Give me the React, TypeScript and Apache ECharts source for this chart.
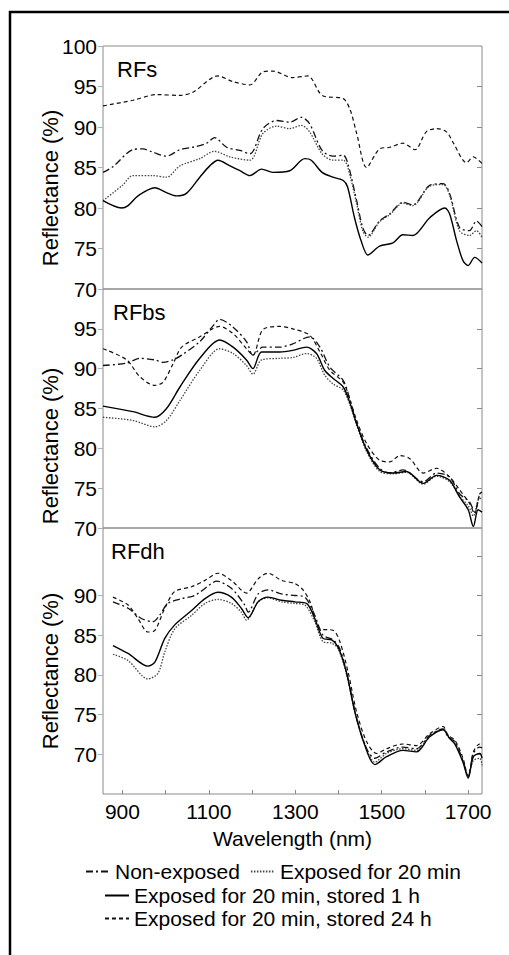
import React, { useEffect, useRef } from "react";
import * as echarts from "echarts";

// ---------- data ----------
const seriesNames = [
  "Non-exposed",
  "Exposed for 20 min",
  "Exposed for 20 min, stored 1 h",
  "Exposed for 20 min, stored 24 h",
];
const panelTitles = ["RFs", "RFbs", "RFdh"];
const xTickValues = [900, 1000, 1100, 1200, 1300, 1400, 1500, 1600, 1700];
const xLabelValues = [900, 1100, 1300, 1500, 1700];
const yLabelsTop = [70, 75, 80, 85, 90, 95, 100];
const yLabelsMid = [70, 75, 80, 85, 90, 95];
const yLabelsBot = [70, 75, 80, 85, 90];

// RFs
const rfsNonExposed = [[855,84.4],[878,85.1],[924,87.2],[947,87.3],[970,86.9],[1002,86.4],[1033,87.2],[1063,87.5],[1095,88.0],[1113,88.7],[1141,87.5],[1172,87.1],[1195,86.7],[1225,89.8],[1257,90.8],[1287,90.6],[1314,91.2],[1333,90.4],[1362,87.1],[1387,86.4],[1411,86.5],[1421,85.6],[1442,80.9],[1456,77.6],[1468,76.6],[1495,78.4],[1519,79.3],[1549,80.7],[1572,80.4],[1611,82.8],[1642,83.0],[1657,81.8],[1680,77.6],[1703,77.2],[1719,78.4],[1732,77.7]];
const rfsExposed20 = [[855,80.9],[900,82.8],[924,84.0],[970,84.0],[1002,83.8],[1033,85.2],[1079,86.1],[1113,87.0],[1149,86.3],[1195,85.9],[1225,89.2],[1257,90.1],[1287,89.8],[1314,90.2],[1333,89.4],[1362,86.7],[1387,85.9],[1411,85.9],[1421,85.1],[1442,80.5],[1456,77.2],[1468,76.4],[1495,78.3],[1519,79.2],[1549,80.6],[1572,80.3],[1611,82.7],[1642,82.9],[1657,81.6],[1680,77.2],[1703,76.6],[1719,77.2],[1732,76.4]];
const rfsStored1h = [[855,80.9],[898,80.0],[913,80.3],[936,81.5],[975,82.5],[1002,81.9],[1025,81.5],[1048,81.8],[1079,83.8],[1102,85.2],[1121,85.9],[1149,85.2],[1172,84.6],[1195,84.0],[1222,84.8],[1248,84.4],[1287,84.6],[1322,86.1],[1337,85.9],[1362,84.4],[1387,83.8],[1411,83.4],[1421,82.6],[1437,78.8],[1452,76.0],[1468,74.2],[1495,75.3],[1526,75.7],[1549,76.7],[1572,76.6],[1611,78.8],[1646,80.0],[1657,79.3],[1673,76.0],[1688,73.5],[1700,72.9],[1715,73.9],[1732,73.2]];
const rfsStored24h = [[855,92.6],[924,93.3],[979,94.0],[1033,93.9],[1063,94.3],[1121,96.3],[1156,95.6],[1195,95.2],[1225,96.8],[1248,96.9],[1294,96.1],[1329,96.3],[1362,93.9],[1411,93.5],[1427,92.1],[1442,89.2],[1465,85.0],[1495,87.3],[1519,87.5],[1549,88.0],[1577,87.2],[1603,89.4],[1627,89.8],[1650,89.4],[1666,88.0],[1696,85.6],[1712,86.3],[1732,85.5]];

// RFbs
const rfbsNonExposed = [[855,90.4],[910,90.7],[940,91.3],[975,91.1],[994,90.8],[1017,91.1],[1037,91.7],[1079,93.4],[1110,95.4],[1125,96.2],[1156,95.2],[1187,93.4],[1202,91.7],[1225,92.7],[1264,92.7],[1294,93.1],[1333,94.0],[1357,92.7],[1380,90.2],[1411,88.5],[1427,86.0],[1442,83.1],[1465,80.0],[1495,77.5],[1519,76.9],[1549,77.3],[1596,75.8],[1627,76.9],[1657,76.4],[1680,74.3],[1703,73.3],[1715,72.0],[1727,74.3],[1732,74.5]];
const rfbsExposed20 = [[855,83.9],[924,83.5],[975,82.7],[1002,83.5],[1033,86.0],[1079,89.8],[1125,92.5],[1156,91.9],[1187,90.4],[1202,89.3],[1222,91.1],[1264,91.3],[1294,91.4],[1326,91.9],[1349,91.3],[1368,89.2],[1387,88.1],[1411,87.3],[1427,85.4],[1442,82.9],[1465,79.6],[1495,77.1],[1526,76.8],[1557,77.0],[1596,75.5],[1627,76.5],[1657,75.8],[1680,74.0],[1700,72.8],[1712,71.5],[1723,73.5],[1732,73.8]];
const rfbsStored1h = [[855,85.3],[924,84.6],[975,83.9],[1002,85.0],[1033,87.7],[1079,91.3],[1125,93.6],[1156,92.7],[1187,91.1],[1202,90.0],[1222,92.1],[1264,92.1],[1294,92.3],[1326,92.7],[1349,91.9],[1368,89.8],[1387,88.8],[1411,87.7],[1427,85.6],[1442,83.1],[1465,79.8],[1495,77.3],[1526,76.9],[1557,77.1],[1596,75.6],[1627,76.6],[1657,76.0],[1680,73.9],[1700,72.3],[1712,70.2],[1723,72.3],[1732,72.0]];
const rfbsStored24h = [[855,92.5],[910,91.1],[940,89.0],[975,87.9],[994,88.3],[1017,90.6],[1037,92.7],[1079,94.0],[1125,95.3],[1156,94.4],[1187,92.5],[1202,91.7],[1225,94.9],[1264,95.3],[1294,95.0],[1333,94.2],[1357,92.1],[1380,89.8],[1411,88.3],[1427,86.0],[1442,83.5],[1465,80.6],[1495,78.5],[1519,78.3],[1542,79.1],[1565,78.7],[1596,76.9],[1627,77.5],[1657,76.4],[1680,74.8],[1703,73.1],[1715,71.8],[1727,74.1],[1732,74.0]];

// RFdh
const rfdhNonExposed = [[878,89.2],[913,88.4],[944,87.1],[971,86.7],[986,87.5],[1005,89.0],[1037,89.6],[1067,90.0],[1106,91.5],[1118,91.8],[1152,90.9],[1183,88.8],[1191,87.9],[1214,90.2],[1237,90.7],[1268,90.2],[1299,90.0],[1322,89.8],[1345,87.5],[1364,85.0],[1388,84.4],[1403,83.3],[1422,79.5],[1442,74.5],[1465,70.7],[1484,69.5],[1511,70.3],[1549,70.9],[1580,70.7],[1611,72.4],[1642,73.2],[1653,72.2],[1669,71.6],[1688,69.2],[1700,67.2],[1712,70.1],[1727,70.9],[1732,70.8]];
const rfdhExposed20 = [[878,82.6],[913,81.8],[959,79.5],[982,80.2],[998,82.9],[1021,85.8],[1060,87.5],[1091,89.0],[1121,89.5],[1152,89.0],[1175,87.9],[1187,86.9],[1214,89.2],[1237,89.7],[1268,89.2],[1299,89.0],[1322,88.8],[1345,86.7],[1364,84.2],[1384,84.0],[1399,83.3],[1418,80.2],[1438,75.3],[1461,71.3],[1484,69.0],[1511,70.1],[1549,70.7],[1580,70.5],[1611,72.3],[1642,73.2],[1657,72.1],[1669,71.5],[1688,69.1],[1700,67.4],[1712,69.2],[1727,69.5],[1732,68.6]];
const rfdhStored1h = [[878,83.7],[913,82.7],[959,81.1],[975,81.6],[998,84.6],[1021,86.3],[1060,88.1],[1091,89.6],[1121,90.4],[1152,89.8],[1175,88.4],[1191,87.2],[1214,89.2],[1237,89.8],[1268,89.4],[1299,89.2],[1326,89.0],[1345,87.1],[1364,84.6],[1384,84.4],[1399,83.5],[1418,80.4],[1438,75.3],[1461,71.1],[1484,68.7],[1511,69.7],[1549,70.5],[1580,70.3],[1611,72.2],[1642,73.1],[1657,72.0],[1669,71.3],[1688,69.0],[1700,67.0],[1712,69.7],[1727,70.1],[1732,69.5]];
const rfdhStored24h = [[878,89.8],[913,88.8],[936,87.1],[959,85.4],[975,85.6],[998,88.4],[1021,90.5],[1060,91.1],[1091,91.9],[1121,92.8],[1152,91.9],[1187,90.3],[1214,92.1],[1237,92.8],[1268,91.9],[1299,91.5],[1318,90.7],[1334,89.2],[1357,85.8],[1388,85.6],[1403,84.2],[1422,80.4],[1442,75.3],[1465,71.6],[1488,70.1],[1511,70.7],[1549,71.3],[1580,71.1],[1611,72.6],[1642,73.5],[1653,72.4],[1669,71.8],[1688,69.5],[1700,67.2],[1712,70.3],[1727,71.3],[1732,71.2]];

const panelData = [
  [rfsNonExposed, rfsExposed20, rfsStored1h, rfsStored24h],
  [rfbsNonExposed, rfbsExposed20, rfbsStored1h, rfbsStored24h],
  [rfdhNonExposed, rfdhExposed20, rfdhStored1h, rfdhStored24h],
];
const panelYRange = [
  [70, 100],
  [70, 100],
  [65, 98.5],
];
const panelYLabels = [yLabelsTop, yLabelsMid, yLabelsBot];

// ---------- styles ----------
const FONT = "'Liberation Sans', Arial, sans-serif";
const frameColor = "#8a8a8a";
const lineStyles = [
  { color: "#111", width: 1.3, type: [7, 3, 2, 3] },
  { color: "#444", width: 1.3, type: [1.5, 1.5] },
  { color: "#000", width: 1.4, type: "solid" },
  { color: "#111", width: 1.2, type: [4, 3] },
];
const grids = [
  { left: 103, top: 46, width: 379, height: 243 },
  { left: 103, top: 289, width: 379, height: 239 },
  { left: 103, top: 528, width: 379, height: 266 },
];
const titlePos = [
  [117, 69],
  [113, 312],
  [111, 551],
];
const yNamePos = [
  [50, 188],
  [50, 446],
  [50, 671],
];

export default function App() {
  const ref = useRef<HTMLDivElement>(null);
  useEffect(() => {
    if (!ref.current) return;
    const chart = echarts.init(ref.current, undefined, { renderer: "svg" });

    const xAxis = grids.map((_, i) => ({
      type: "value",
      gridIndex: i,
      min: 855,
      max: 1732,
      axisLine: { show: false },
      splitLine: { show: false },
      axisTick:
        i === 2
          ? {
              show: true,
              inside: true,
              length: 4,
              customValues: xTickValues,
              lineStyle: { color: frameColor },
            }
          : { show: false },
      axisLabel:
        i === 2
          ? {
              show: true,
              customValues: xLabelValues,
              formatter: (v: number) => String(v),
              fontSize: 21,
              color: "#000",
              fontFamily: FONT,
              margin: 7,
            }
          : { show: false },
      name: i === 2 ? "Wavelength (nm)" : "",
      nameLocation: "middle",
      nameGap: 34,
      nameTextStyle: { fontSize: 21, color: "#000", fontFamily: FONT },
    }));

    const yAxis: any[] = [];
    grids.forEach((_, i) => {
      const [mn, mx] = panelYRange[i];
      const labels = panelYLabels[i];
      yAxis.push({
        type: "value",
        gridIndex: i,
        position: "left",
        min: mn,
        max: mx,
        interval: 5,
        axisLine: { show: false },
        splitLine: { show: false },
        axisTick: {
          show: true,
          length: 5,
          customValues: labels,
          lineStyle: { color: "#b0b0b0" },
        },
        axisLabel: {
          customValues: labels,
          formatter: (v: number) => String(v),
          fontSize: 21,
          color: "#000",
          fontFamily: FONT,
          margin: 6,
        },
      });
      yAxis.push({
        type: "value",
        gridIndex: i,
        position: "right",
        min: mn,
        max: mx,
        interval: 5,
        axisLine: { show: false },
        splitLine: { show: false },
        axisTick: {
          show: true,
          inside: true,
          length: 5,
          customValues: i === 2 ? [70, 75, 80, 85, 90, 95] : [75, 80, 85, 90, 95],
          lineStyle: { color: frameColor },
        },
        axisLabel: { show: false },
      });
    });

    const series: any[] = [];
    panelData.forEach((sets, p) => {
      sets.forEach((d, s) => {
        series.push({
          type: "line",
          name: seriesNames[s],
          xAxisIndex: p,
          yAxisIndex: p * 2,
          data: d,
          symbol: "none",
          smooth: 0.3,
          lineStyle: lineStyles[s],
          z: 3,
        });
      });
    });

    const legendCommon = {
      orient: "horizontal",
      itemWidth: 24,
      itemHeight: 14,
      itemGap: 10,
      selectedMode: false,
      itemStyle: { opacity: 0 },
      textStyle: { fontSize: 21, color: "#000", fontFamily: FONT },
    };

    const graphic: any[] = [
      {
        type: "rect",
        shape: { x: 10, y: 12, width: 520, height: 980 },
        style: { fill: "none", stroke: "#000", lineWidth: 2.5 },
        silent: true,
      },
    ];
    panelTitles.forEach((t, i) => {
      graphic.push({
        type: "text",
        x: titlePos[i][0],
        y: titlePos[i][1],
        style: {
          text: t,
          fontSize: 22,
          fontFamily: FONT,
          fill: "#000",
          verticalAlign: "middle",
          align: "left",
        },
        z: 10,
      });
      graphic.push({
        type: "text",
        x: yNamePos[i][0],
        y: yNamePos[i][1],
        rotation: Math.PI / 2,
        style: {
          text: "Reflectance (%)",
          fontSize: 22,
          fontFamily: FONT,
          fill: "#000",
          verticalAlign: "middle",
          align: "center",
        },
      });
    });

    chart.setOption({
      animation: false,
      backgroundColor: "#fff",
      textStyle: { fontFamily: FONT },
      grid: grids.map((g) => ({
        ...g,
        show: true,
        borderColor: frameColor,
        borderWidth: 1,
        backgroundColor: "transparent",
      })),
      xAxis,
      yAxis,
      series,
      legend: [
        { ...legendCommon, data: [seriesNames[0], seriesNames[1]], left: 80, top: 856 },
        { ...legendCommon, data: [seriesNames[2]], left: 99, top: 880 },
        { ...legendCommon, data: [seriesNames[3]], left: 99, top: 903 },
      ],
      graphic,
    });
    return () => chart.dispose();
  }, []);
  return (
    <div
      ref={ref}
      style={{ position: "absolute", left: 0, top: 0, width: 509, height: 955 }}
    />
  );
}
